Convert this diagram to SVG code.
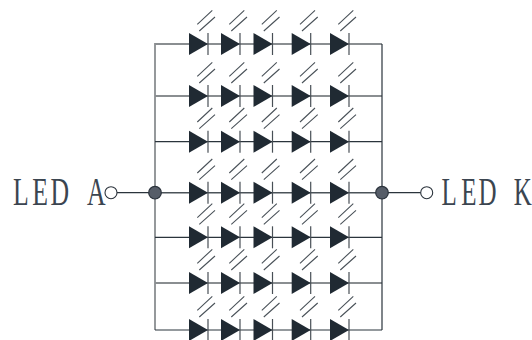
<svg xmlns="http://www.w3.org/2000/svg" width="532" height="340" viewBox="0 0 532 340">
<style>
.w{stroke:#8a8e91;stroke-width:1.8;fill:none}
.d{stroke:#2b343c;stroke-width:1.2;fill:none}
.m{stroke:#4b5359;stroke-width:1.5;fill:none}
.t{fill:#3b4550;font-family:"Liberation Serif",serif;font-size:39px}
.j{fill:#565d68;stroke:#2b333c;stroke-width:1.2}
.o{fill:#fff;stroke:#2b333c;stroke-width:1.1}
</style>
<defs>
<g id="diode">
<path d="M0 -11 L19 0 L0 11Z" fill="#202a33"/>
<path d="M19 -11V11" stroke="#484f56" stroke-width="1.2"/>
<path d="M8.3 -19.7L23.3 -33.7M10.3 -13L26 -27" stroke="#4a5259" stroke-width="1.1" fill="none"/>
</g>
</defs>
<g id="connectors">
<path class="w" d="M155 44H382M155 96H382M155 283H382M155 43V330"/>
<path class="d" d="M155 141.700H382M155 237.300H382M155 330H382M382 44V330"/>
<path class="m" d="M155 192.700H382"/>
<path class="d" d="M117 192.700H155M382 192.700H421"/>
</g>
<g id="row1"><use href="#diode" x="189" y="44"/><use href="#diode" x="221" y="44"/><use href="#diode" x="253.500" y="44"/><use href="#diode" x="291.700" y="44"/><use href="#diode" x="330" y="44"/></g>
<g id="row2"><use href="#diode" x="189" y="96"/><use href="#diode" x="221" y="96"/><use href="#diode" x="253.500" y="96"/><use href="#diode" x="291.700" y="96"/><use href="#diode" x="330" y="96"/></g>
<g id="row3"><use href="#diode" x="189" y="141.700"/><use href="#diode" x="221" y="141.700"/><use href="#diode" x="253.500" y="141.700"/><use href="#diode" x="291.700" y="141.700"/><use href="#diode" x="330" y="141.700"/></g>
<g id="row4"><use href="#diode" x="189" y="192.700"/><use href="#diode" x="221" y="192.700"/><use href="#diode" x="253.500" y="192.700"/><use href="#diode" x="291.700" y="192.700"/><use href="#diode" x="330" y="192.700"/></g>
<g id="row5"><use href="#diode" x="189" y="237.300"/><use href="#diode" x="221" y="237.300"/><use href="#diode" x="253.500" y="237.300"/><use href="#diode" x="291.700" y="237.300"/><use href="#diode" x="330" y="237.300"/></g>
<g id="row6"><use href="#diode" x="189" y="283"/><use href="#diode" x="221" y="283"/><use href="#diode" x="253.500" y="283"/><use href="#diode" x="291.700" y="283"/><use href="#diode" x="330" y="283"/></g>
<g id="row7"><use href="#diode" x="189" y="330"/><use href="#diode" x="221" y="330"/><use href="#diode" x="253.500" y="330"/><use href="#diode" x="291.700" y="330"/><use href="#diode" x="330" y="330"/></g>
<g id="junction-a"><circle class="j" cx="155" cy="192.700" r="6.300"/></g>
<g id="junction-k"><circle class="j" cx="382" cy="192.700" r="6.300"/></g>
<g id="terminal-a"><circle class="o" cx="111" cy="192.700" r="6"/><text class="t" transform="translate(13 205) scale(.66 1)" x="0 29 57 84 112">LED A</text></g>
<g id="terminal-k"><circle class="o" cx="426.700" cy="192.700" r="6"/><text class="t" transform="translate(441.500 205) scale(.64 1)" x="0 31 58 85 113">LED K</text></g>
</svg>
